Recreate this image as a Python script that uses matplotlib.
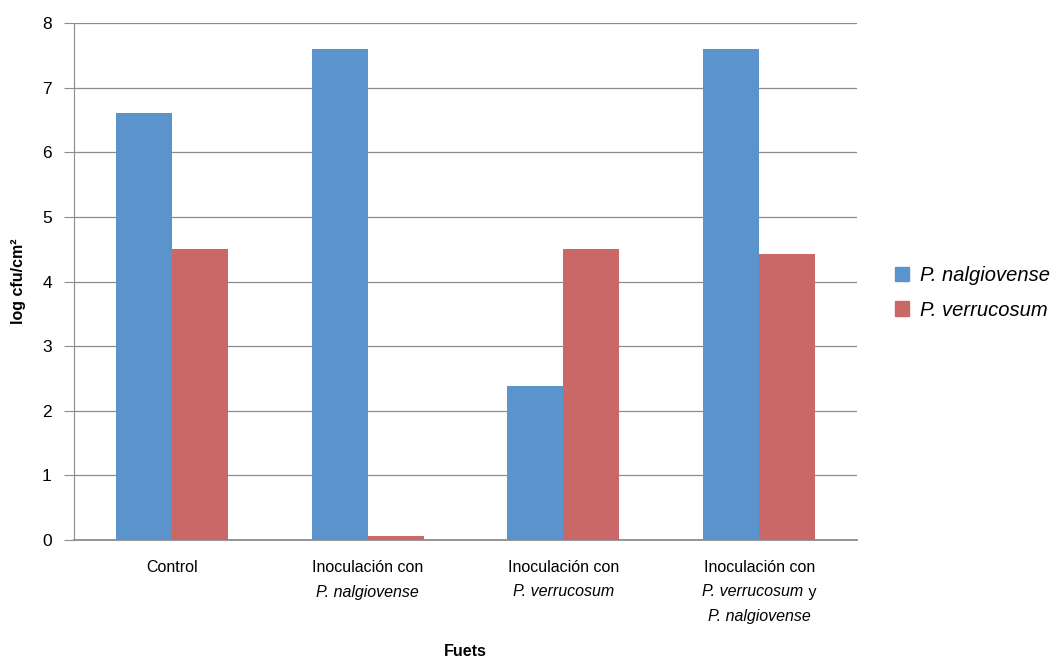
import matplotlib
matplotlib.use("Agg")
import matplotlib.pyplot as plt
import numpy as np
from matplotlib.patches import Patch
from matplotlib.transforms import blended_transform_factory, offset_copy

plt.rcParams['font.family'] = ['Liberation Sans', 'DejaVu Sans']

# each category label: lines made of (text, style) pieces
categories = [
    [[("Control", "normal")]],
    [[("Inoculación con", "normal")], [("P. nalgiovense", "italic")]],
    [[("Inoculación con", "normal")], [("P. verrucosum", "italic")]],
    [[("Inoculación con", "normal")],
     [("P. verrucosum", "italic"), (" y", "normal")],
     [("P. nalgiovense", "italic")]],
]
series_names = ["P. nalgiovense", "P. verrucosum"]
nalgiovense = [6.6, 7.6, 2.38, 7.6]
verrucosum = [4.5, 0.06, 4.5, 4.42]
colors = ["#5b93cc", "#c96866"]

fig = plt.figure(figsize=(10.57, 6.6), dpi=100)
ax = fig.add_axes([74/1057, 120/660, 783/1057, 517/660])

x = np.arange(len(categories))
w = 0.286
ax.bar(x - w/2, nalgiovense, w, color=colors[0], zorder=3)
ax.bar(x + w/2, verrucosum, w, color=colors[1], zorder=3)

ax.set_xlim(-0.5, len(categories) - 0.5)
ax.set_ylim(0, 8)
ax.set_yticks(range(0, 9))
ax.yaxis.grid(True, color="#8c8c8c", linewidth=0.9, zorder=0)
for s in ["top", "right"]:
    ax.spines[s].set_visible(False)
ax.spines["left"].set_color("#8c8c8c")
ax.spines["bottom"].set_color("#8c8c8c")
ax.spines["bottom"].set_linewidth(1.3)
ax.tick_params(axis="y", length=7, color="#8c8c8c", labelsize=12.5, pad=9)
ax.set_xticks(x)
ax.set_xticklabels([])
ax.tick_params(axis="x", length=0)

# category labels, laid out piece by piece so styles can be mixed in a line
renderer = fig.canvas.get_renderer()
trans = blended_transform_factory(ax.transData, fig.transFigure)
line_y = [567, 592, 617]
fs = 11.5
for xi, lines in zip(x, categories):
    for j, pieces in enumerate(lines):
        widths = []
        for txt, style in pieces:
            t = fig.text(0, 0, txt, fontsize=fs, fontstyle=style)
            widths.append(t.get_window_extent(renderer).width)
            t.remove()
        total = sum(widths)
        left = -total / 2
        for (txt, style), wd in zip(pieces, widths):
            tr = offset_copy(trans, fig=fig, x=left * 72 / fig.dpi, y=0,
                             units="points")
            ax.text(xi, 1 - line_y[j]/660, txt, transform=tr, ha="left",
                    va="center", fontsize=fs, fontstyle=style, clip_on=False)
            left += wd

fig.text(0.5 * (74 + 857) / 1057, 1 - 652/660, "Fuets", ha="center",
         va="center", fontsize=11.5, fontweight="bold")
fig.text(19/1057, 1 - 281/660, "log cfu/cm²", ha="center", va="center",
         rotation=90, fontsize=11.5, fontweight="bold")

handles = [Patch(color=c) for c in colors]
fig.legend(handles, series_names, loc="center left",
           bbox_to_anchor=(895/1057, 1 - 293/660), frameon=False,
           prop={"size": 14.5, "style": "italic"}, handlelength=0.7,
           handleheight=0.7, labelspacing=0.75, handletextpad=0.55,
           borderpad=0, borderaxespad=0)

fig.savefig("out.png", dpi=100)
